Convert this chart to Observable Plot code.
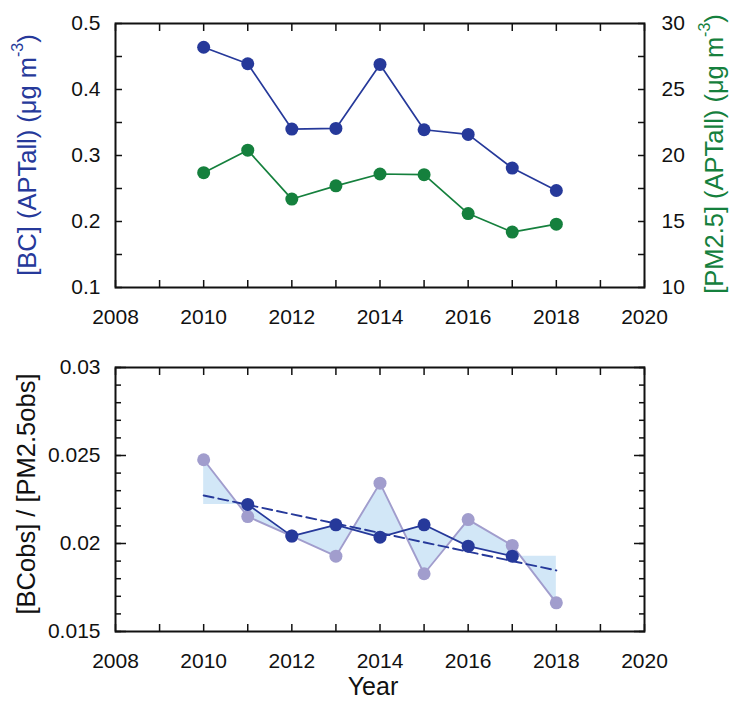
<!DOCTYPE html>
<html><head><meta charset="utf-8">
<script src="https://cdn.jsdelivr.net/npm/d3@7"></script>
<script src="https://cdn.jsdelivr.net/npm/@observablehq/plot@0.6"></script>
<style>body{margin:0;background:#fff;} svg{display:block;}</style>
</head><body><div id="chart"></div>
<script>
// ---- data ----
const years = [2010, 2011, 2012, 2013, 2014, 2015, 2016, 2017, 2018];
const bcAll = [0.464, 0.439, 0.340, 0.341, 0.438, 0.339, 0.332, 0.281, 0.247];
const pm25All = [18.7, 20.4, 16.7, 17.7, 18.6, 18.55, 15.6, 14.2, 14.8];
const ratioObs = [0.02476, 0.02153, 0.02042, 0.01928, 0.02343, 0.01828, 0.02136, 0.01989, 0.01663];
const smoothYears = [2011, 2012, 2013, 2014, 2015, 2016, 2017];
const ratioSmooth = [0.02222, 0.02042, 0.02106, 0.02036, 0.02106, 0.01985, 0.01928];
const trendYears = [2010, 2018];
const trendValues = [0.02273, 0.01847];
const xTickYears = [2008, 2009, 2010, 2011, 2012, 2013, 2014, 2015, 2016, 2017, 2018, 2019, 2020];
const xLabelYears = [2008, 2010, 2012, 2014, 2016, 2018, 2020];
const bcTicks = [0.1, 0.15, 0.2, 0.25, 0.3, 0.35, 0.4, 0.45, 0.5];
const bcLabels = [0.1, 0.2, 0.3, 0.4, 0.5];
const pmLabels = [10, 15, 20, 25, 30];
const ratioMinor = [0.015,0.016,0.017,0.018,0.019,0.02,0.021,0.022,0.023,0.024,0.025,0.026,0.027,0.028,0.029,0.03];
const ratioMajor = [0.015, 0.02, 0.025, 0.03];

const BLUE = "#26399a", GREEN = "#15803d", PURPLE = "#a19dcd", FILL = "#d2e7f7", INK = "#111";
const FONT = "'Liberation Sans', Arial, sans-serif";

// map PM2.5 onto BC scale (10..30 -> 0.1..0.5)
const pmToBc = p => 0.1 + (p - 10) * 0.02;
const fmt = d => String(+(+d).toFixed(4));

const topData = years.map((y, i) => ({year: y, bc: bcAll[i], pm: pm25All[i]}));
const obsData = years.map((y, i) => ({year: y, v: ratioObs[i]}));
const smData = smoothYears.map((y, i) => ({year: y, v: ratioSmooth[i]}));
const trData = trendYears.map((y, i) => ({year: y, v: trendValues[i]}));
const smoothAt = y => {
  const c = Math.max(smoothYears[0], Math.min(smoothYears[smoothYears.length - 1], y));
  return ratioSmooth[smoothYears.indexOf(c)];
};
const fillData = years.map((y, i) => ({year: y, obs: ratioObs[i], sm: smoothAt(y)}));

function xAxes() {
  return [
    Plot.axisX(xTickYears, {anchor: "bottom", tickSize: -7, tickFormat: () => "", label: null, stroke: INK, strokeWidth: 1.5}),
    Plot.axisX(xTickYears, {anchor: "top", tickSize: -7, tickFormat: () => "", label: null, stroke: INK, strokeWidth: 1.5}),
    Plot.axisX(xLabelYears, {anchor: "bottom", tickSize: 0, tickPadding: 22, tickFormat: "d", label: null, fill: INK})
  ];
}

// ---- top panel ----
const topSvg = Plot.plot({
  width: 730, height: 340,
  marginLeft: 115, marginRight: 86, marginTop: 23, marginBottom: 53,
  style: {fontFamily: FONT, fontSize: "21px", color: INK, background: "white", overflow: "visible"},
  x: {domain: [2008, 2020]},
  y: {domain: [0.1, 0.5]},
  marks: [
    ...xAxes(),
    Plot.axisY(bcTicks, {anchor: "left", tickSize: -7, tickFormat: () => "", label: null, stroke: INK, strokeWidth: 1.5}),
    Plot.axisY(bcTicks, {anchor: "right", tickSize: -7, tickFormat: () => "", label: null, stroke: INK, strokeWidth: 1.5}),
    Plot.axisY(bcLabels, {anchor: "left", tickSize: 0, tickPadding: 15, tickFormat: fmt, label: null, fill: INK}),
    Plot.axisY(pmLabels.map(pmToBc), {anchor: "right", tickSize: 0, tickPadding: 17,
      tickFormat: d => String(Math.round((d - 0.1) / 0.02 + 10)), label: null, fill: INK}),
    Plot.line(topData, {x: "year", y: d => pmToBc(d.pm), stroke: GREEN, strokeWidth: 1.7}),
    Plot.dot(topData, {x: "year", y: d => pmToBc(d.pm), r: 6.5, fill: GREEN, stroke: "none"}),
    Plot.line(topData, {x: "year", y: "bc", stroke: BLUE, strokeWidth: 1.7}),
    Plot.dot(topData, {x: "year", y: "bc", r: 6.5, fill: BLUE, stroke: "none"}),
    Plot.frame({stroke: INK, strokeWidth: 2})
  ]
});

// ---- bottom panel ----
const botSvg = Plot.plot({
  width: 730, height: 367,
  marginLeft: 115, marginRight: 86, marginTop: 27, marginBottom: 76,
  style: {fontFamily: FONT, fontSize: "21px", color: INK, background: "white", overflow: "visible"},
  x: {domain: [2008, 2020]},
  y: {domain: [0.015, 0.03]},
  marks: [
    Plot.areaY(fillData, {x: "year", y1: "obs", y2: "sm", fill: FILL, curve: "linear"}),
    Plot.line(obsData, {x: "year", y: "v", stroke: PURPLE, strokeWidth: 1.9}),
    Plot.dot(obsData, {x: "year", y: "v", r: 6.5, fill: PURPLE, stroke: "none"}),
    Plot.line(trData, {x: "year", y: "v", stroke: BLUE, strokeWidth: 1.9, strokeDasharray: "10,5"}),
    Plot.line(smData, {x: "year", y: "v", stroke: BLUE, strokeWidth: 1.7}),
    Plot.dot(smData, {x: "year", y: "v", r: 6.5, fill: BLUE, stroke: "none"}),
    ...xAxes(),
    Plot.axisY(ratioMinor, {anchor: "left", tickSize: -6, tickFormat: () => "", label: null, stroke: INK, strokeWidth: 1.5}),
    Plot.axisY(ratioMinor, {anchor: "right", tickSize: -6, tickFormat: () => "", label: null, stroke: INK, strokeWidth: 1.5}),
    Plot.axisY(ratioMajor, {anchor: "left", tickSize: -11, tickFormat: () => "", label: null, stroke: INK, strokeWidth: 1.5}),
    Plot.axisY(ratioMajor, {anchor: "right", tickSize: -11, tickFormat: () => "", label: null, stroke: INK, strokeWidth: 1.5}),
    Plot.axisY(ratioMajor, {anchor: "left", tickSize: 0, tickPadding: 15, tickFormat: fmt, label: null, fill: INK}),
    Plot.frame({stroke: INK, strokeWidth: 2})
  ]
});

const chart = document.getElementById("chart");
chart.appendChild(topSvg);
chart.appendChild(botSvg);

// ---- axis titles (with superscripts) ----
function rotTitle(svg, x, y, color, parts) {
  const t = d3.select(svg).append("text")
    .attr("transform", `translate(${x},${y}) rotate(-90)`)
    .attr("text-anchor", "middle")
    .attr("dominant-baseline", "central")
    .attr("fill", color)
    .style("font-family", FONT)
    .style("font-size", "25.5px");
  parts.forEach(p => {
    const s = t.append("tspan").text(p.text);
    if (p.sup) s.attr("dy", -10).style("font-size", "16px");
    if (p.after) s.attr("dy", 10);
  });
  return t;
}
rotTitle(topSvg, 27, 155, BLUE, [
  {text: "[BC] (APTall) (μg m"}, {text: "-3", sup: true}, {text: ")", after: true}
]);
rotTitle(topSvg, 714, 154, GREEN, [
  {text: "[PM2.5] (APTall) (μg m"}, {text: "-3", sup: true}, {text: ")", after: true}
]);
rotTitle(botSvg, 26, 154, INK, [{text: "[BCobs] / [PM2.5obs]"}]);
d3.select(botSvg).append("text")
  .attr("x", 373).attr("y", 346)
  .attr("text-anchor", "middle").attr("dominant-baseline", "central")
  .attr("fill", INK).style("font-family", FONT).style("font-size", "25px")
  .text("Year");
</script>
</body></html>
